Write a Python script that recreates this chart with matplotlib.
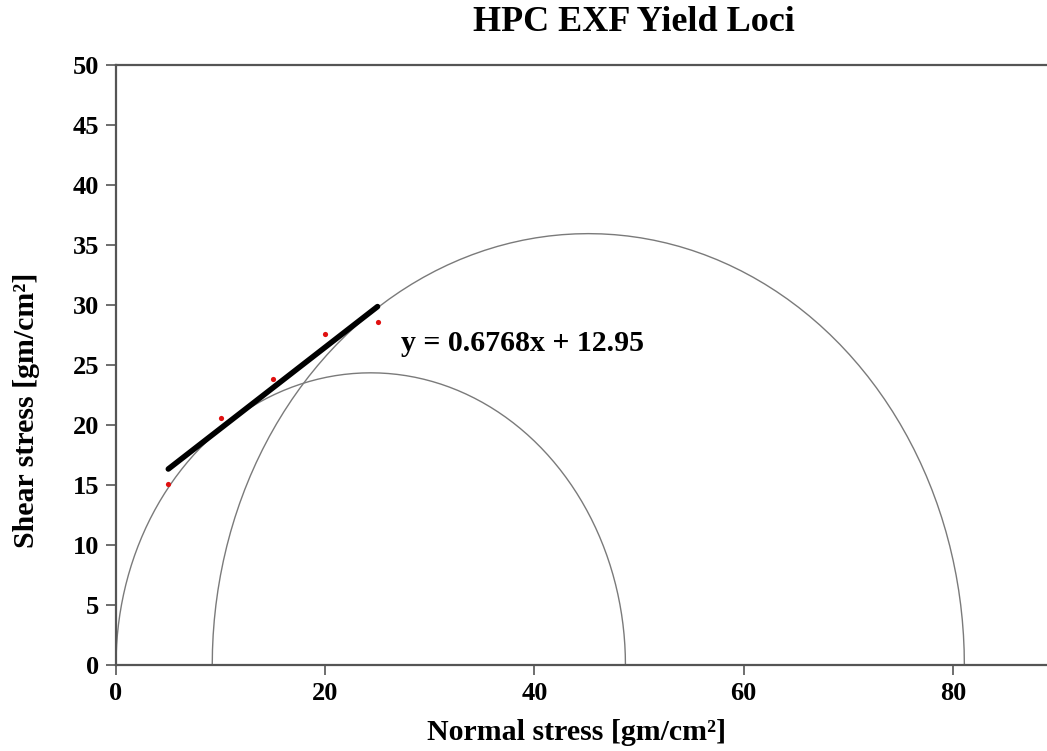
import numpy as np
import matplotlib
matplotlib.use("Agg")
import matplotlib.pyplot as plt

# Yield-locus test data: normal stress vs measured shear stress
normal_stress = [5, 10, 15, 20, 25]
shear_stress = [15.1, 20.6, 23.8, 27.6, 28.6]

# Linear fit of the yield locus
slope = 0.6768
intercept = 12.95

# Mohr circles given by principal stresses (sigma3, sigma1)
circle_sigma3 = [0.0, 9.2]
circle_sigma1 = [48.7, 81.1]

x_ticks = [0, 20, 40, 60, 80]
y_ticks = [0, 5, 10, 15, 20, 25, 30, 35, 40, 45, 50]

plt.rcParams["font.family"] = ["Liberation Serif", "DejaVu Serif"]
plt.rcParams["font.weight"] = "bold"

fig = plt.figure(figsize=(10.47, 7.51), dpi=100)
ax = fig.add_axes([0.1108, 0.1145, 0.8892, 0.7989])

# Mohr semicircles
theta = np.deg2rad(np.linspace(0, 180, 91))
for s3, s1 in zip(circle_sigma3, circle_sigma1):
    c = (s1 + s3) / 2.0
    r = (s1 - s3) / 2.0
    ax.plot(c - r * np.cos(theta), r * np.sin(theta), color="#7a7a7a", lw=1.0, zorder=2)

# Fitted yield locus over the measured range
fx = np.array([min(normal_stress), max(normal_stress)])
ax.plot(fx, slope * fx + intercept, color="black", lw=4, solid_capstyle="round", zorder=3)

ax.scatter(normal_stress, shear_stress, s=14, color="#e01010", zorder=4, linewidths=0)

ax.text(27.2, 26.8, f"y = {slope}x + {intercept}", fontsize=21.5, fontweight="bold",
        va="center", ha="left")

ax.set_xlim(0, 89)
ax.set_ylim(0, 50)
ax.set_xticks(x_ticks)
ax.set_yticks(y_ticks)
ax.tick_params(axis="both", direction="out", length=7, width=1.2, color="#555555",
               labelsize=19, pad=5)
for lab in ax.get_xticklabels() + ax.get_yticklabels():
    lab.set_fontweight("bold")

for side in ["left", "bottom", "top"]:
    ax.spines[side].set_color("#555555")
    ax.spines[side].set_linewidth(1.6)
ax.spines["right"].set_visible(False)

fig.text(0.551, 0.024, "Normal stress [gm/cm²]", fontsize=21.5, fontweight="bold",
         ha="center", va="center")
fig.text(0.025, 0.454, "Shear stress [gm/cm²]", fontsize=21.5, fontweight="bold",
         ha="center", va="center", rotation=90)

fig.text(0.605, 0.970, "HPC EXF Yield Loci", fontsize=26, fontweight="bold",
         ha="center", va="center")

fig.savefig("out.png", dpi=100)
